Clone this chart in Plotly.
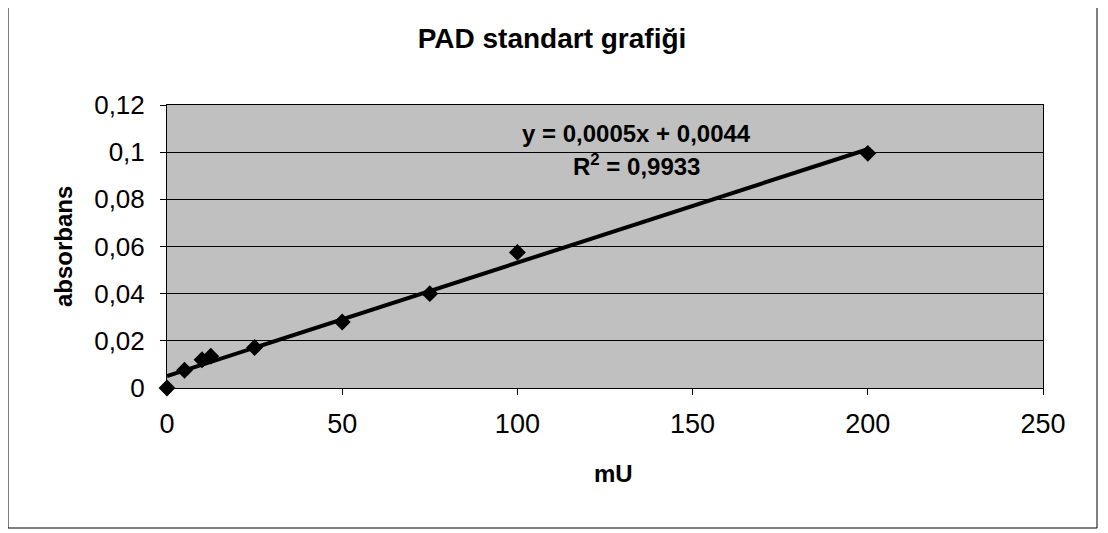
import numpy as np
import plotly.graph_objects as go

# Data
mU = [0, 5, 10, 12.5, 25, 50, 75, 100, 200]
absorbans = [0.0, 0.0075, 0.012, 0.0135, 0.0172, 0.028, 0.040, 0.0575, 0.0995]

y_tickvals = [0, 0.02, 0.04, 0.06, 0.08, 0.10, 0.12]
y_ticktext = ["0", "0,02", "0,04", "0,06", "0,08", "0,1", "0,12"]
x_tickvals = [0, 50, 100, 150, 200, 250]
x_ticktext = ["0", "50", "100", "150", "200", "250"]

title_text = "PAD standart grafiği"
eq_text = "y = 0,0005x + 0,0044"
r2_text = "R<sup>2</sup> = 0,9933"

# Linear trendline from data
slope, intercept = np.polyfit(mU, absorbans, 1)
trend_x = [min(mU), max(mU)]
trend_y = [slope * v + intercept for v in trend_x]

FONT = "Arial, Liberation Sans, sans-serif"

fig = go.Figure()
fig.add_trace(go.Scatter(
    x=trend_x, y=trend_y, mode="lines",
    line=dict(color="black", width=4), hoverinfo="skip", showlegend=False))
fig.add_trace(go.Scatter(
    x=mU, y=absorbans, mode="markers", cliponaxis=False,
    marker=dict(symbol="diamond", size=13, color="black"), showlegend=False))

OFF = 8  # page body margin
W, H = 1108 - OFF, 533 - OFF
L, R, T, B = 167 - OFF, 1043 - OFF, 105 - OFF, 388 - OFF
pw, ph = R - L, B - T

def px(xp):
    return (xp - OFF - L) / pw

def py(yp):
    return (B - (yp - OFF)) / ph

fig.update_layout(
    width=W, height=H,
    margin=dict(l=L, r=W - R, t=T, b=H - B, pad=0),
    paper_bgcolor="white", plot_bgcolor="#c0c0c0",
    font=dict(family=FONT, color="black"),
    title=dict(text="<b>" + title_text + "</b>", x=(552 - OFF) / W, xanchor="center",
               y=1 - (38 - OFF) / H, yanchor="middle", font=dict(size=28, family=FONT)),
    xaxis=dict(range=[0, 250], tickvals=x_tickvals, ticktext=x_ticktext,
               showgrid=False, zeroline=False, showline=True, linecolor="black",
               linewidth=1, mirror=True, ticks="outside", ticklen=6,
               tickcolor="black", tickfont=dict(size=27, family=FONT),
               ticklabelstandoff=6),
    yaxis=dict(range=[0, 0.12], tickvals=y_tickvals, ticktext=y_ticktext,
               showgrid=True, gridcolor="black", gridwidth=1, zeroline=False,
               showline=True, linecolor="black", linewidth=1, mirror=True,
               ticks="outside", ticklen=6, tickcolor="black",
               tickfont=dict(size=26, family=FONT), ticklabelstandoff=10),
    shapes=[dict(type="rect", xref="paper", yref="paper",
                 x0=px(8), x1=px(1097), y0=py(528), y1=py(3),
                 line=dict(color="black", width=1), fillcolor="rgba(0,0,0,0)",
                 layer="below")],
    annotations=[
        dict(text="<b>" + eq_text + "</b>", x=134.1, y=0.1081, xref="x", yref="y",
             xanchor="center", yanchor="middle",
             showarrow=False, font=dict(size=24, family=FONT)),
        dict(text="<b>" + r2_text + "</b>", x=134.1, y=0.0946, xref="x", yref="y",
             xanchor="center", yanchor="middle",
             showarrow=False, font=dict(size=24, family=FONT)),
        dict(text="<b>absorbans</b>", x=px(63), y=py(247), xref="paper", yref="paper",
             xanchor="center", yanchor="middle",
             textangle=-90, showarrow=False, font=dict(size=24, family=FONT)),
        dict(text="<b>mU</b>", x=px(613), y=py(473), xref="paper", yref="paper",
             xanchor="center", yanchor="middle",
             showarrow=False, font=dict(size=24, family=FONT)),
    ],
)

fig.write_html("out.html")
